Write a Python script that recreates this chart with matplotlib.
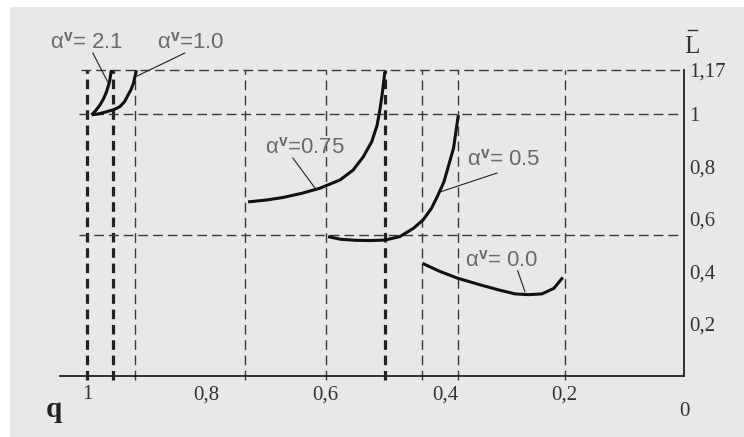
"""L(q) curves for several alpha values"""

import matplotlib
matplotlib.use("Agg")
import matplotlib.pyplot as plt
from matplotlib.patches import Rectangle

# curves: q (x axis runs from 1 down to 0) and L
q_a21 = [0.992, 0.985, 0.978, 0.972, 0.967, 0.962, 0.959]
L_a21 = [0.998, 1.015, 1.036, 1.060, 1.087, 1.125, 1.169]

q_a10 = [0.992, 0.980, 0.967, 0.955, 0.945, 0.937, 0.931, 0.926, 0.922, 0.917]
L_a10 = [0.998, 1.002, 1.010, 1.018, 1.029, 1.048, 1.074, 1.095, 1.119, 1.169]

q_a075 = [0.730, 0.700, 0.671, 0.640, 0.610, 0.576, 0.554, 0.537, 0.523, 0.514,
          0.509, 0.505, 0.501]
L_a075 = [0.665, 0.672, 0.682, 0.698, 0.717, 0.749, 0.787, 0.838, 0.895, 0.958,
          1.021, 1.085, 1.163]

q_a05 = [0.596, 0.575, 0.55, 0.525, 0.501, 0.476, 0.453, 0.437, 0.423, 0.412,
         0.402, 0.394, 0.386, 0.382, 0.378]
L_a05 = [0.532, 0.522, 0.518, 0.517, 0.519, 0.532, 0.564, 0.596, 0.640, 0.691,
         0.742, 0.806, 0.870, 0.933, 0.997]

q_a00 = [0.438, 0.41, 0.379, 0.345, 0.310, 0.283, 0.26, 0.238, 0.218, 0.203]
L_a00 = [0.430, 0.400, 0.373, 0.350, 0.328, 0.313, 0.310, 0.313, 0.334, 0.376]

# dashed guide lines
vlines_bold = [1.0, 0.957, 0.5]
vlines_thin = [0.92, 0.735, 0.6, 0.439, 0.379, 0.2]
hlines = [1.17, 1.0, 0.539]

x_ticks = [1.0, 0.8, 0.6, 0.4, 0.2]
x_labels = ["1", "0,8", "0,6", "0,4", "0,2"]
y_ticks = [0.2, 0.4, 0.6, 0.8, 1.0, 1.17]
y_labels = ["0,2", "0,4", "0,6", "0,8", "1", "1,17"]

plt.rcParams["font.family"] = ["Liberation Sans", "DejaVu Sans"]
plt.rcParams["mathtext.fontset"] = "custom"
plt.rcParams["mathtext.rm"] = "Liberation Sans"
plt.rcParams["mathtext.bf"] = "Liberation Sans:bold"
plt.rcParams["mathtext.it"] = "Liberation Serif"

fig = plt.figure(figsize=(7.44, 4.37), dpi=100)
fig.patch.set_facecolor("white")
fig.patches.append(Rectangle((10 / 744, 0), 1, 430 / 437, transform=fig.transFigure,
                             facecolor="#e8e8e8", edgecolor="none", zorder=-5))

ax = fig.add_axes([60 / 744, (437 - 375.7) / 437, 624 / 744, 305.8 / 437])
ax.set_zorder(2)
ax.set_facecolor("none")
ax.set_xlim(1.045, 0)
ax.set_ylim(0, 1.17)

# guide lines
for q in vlines_thin:
    ax.plot([q, q], [-0.015, 1.17], color="#3a3a3a", lw=1.0,
            linestyle=(0, (7.0, 4.0)), clip_on=False, zorder=1)
for q in vlines_bold:
    ax.plot([q, q], [-0.015, 1.17], color="#222222", lw=2.3,
            linestyle=(0, (3.0, 1.8)), clip_on=False, zorder=1)
ax.plot([1.010, 0], [1.17, 1.17], color="#3a3a3a", lw=1.0,
        linestyle=(0, (7.0, 3.6)), clip_on=False, zorder=1)
for y in hlines[1:]:
    ax.plot([1.013, 0], [y, y], color="#3a3a3a", lw=1.0,
            linestyle=(0, (7.0, 3.6)), clip_on=False, zorder=1)

# curves
for qq, LL in [(q_a21, L_a21), (q_a10, L_a10), (q_a075, L_a075),
               (q_a05, L_a05), (q_a00, L_a00)]:
    ax.plot(qq, LL, color="#111111", lw=2.2, solid_capstyle="butt",
            solid_joinstyle="round", clip_on=False, zorder=3)

# labels with leader lines
lab_col = "#6a6a6a"
ax.text(1.062, 1.254, r"α$^{\mathbf{v}}$= 2.1", fontsize=16, color=lab_col,
        va="baseline", ha="left", clip_on=False)
ax.plot([0.990, 0.965], [1.2345, 1.1236], color="#222222", lw=0.8, clip_on=False)
ax.text(0.883, 1.254, r"α$^{\mathbf{v}}$=1.0", fontsize=16, color=lab_col,
        va="baseline", ha="left", clip_on=False)
ax.plot([0.836, 0.916], [1.2345, 1.1465], color="#222222", lw=0.8, clip_on=False)
ax.text(0.702, 0.852, r"α$^{\mathbf{v}}$=0.75", fontsize=16, color=lab_col,
        va="baseline", ha="left")
ax.plot([0.655, 0.618], [0.8329, 0.7181], color="#222222", lw=0.8)
ax.text(0.3635, 0.806, r"α$^{\mathbf{v}}$= 0.5", fontsize=16, color=lab_col,
        va="baseline", ha="left")
ax.plot([0.313, 0.409], [0.7755, 0.7027], color="#222222", lw=0.8)
ax.text(0.367, 0.42, r"α$^{\mathbf{v}}$= 0.0", fontsize=16, color=lab_col,
        va="baseline", ha="left")
ax.plot([0.2786, 0.2663], [0.4017, 0.3213], color="#222222", lw=0.8)

# axes
for side in ["top", "left"]:
    ax.spines[side].set_visible(False)
for side in ["bottom", "right"]:
    ax.spines[side].set_color("#222222")
    ax.spines[side].set_linewidth(1.3)

ax.set_xticks(x_ticks)
ax.set_xticklabels(x_labels, family="Liberation Serif", fontsize=15, color="#333333")
ax.yaxis.tick_right()
ax.set_yticks(y_ticks)
ax.set_yticklabels(y_labels, family="Liberation Serif", fontsize=15, color="#333333")
ax.tick_params(axis="x", length=0, pad=7)
ax.tick_params(axis="y", length=0, pad=4)

ax.text(0, -0.1375, "0", family="Liberation Serif", fontsize=15, color="#333333",
        ha="center", va="center", clip_on=False)
ax.text(1.056, -0.131, "q", family="Liberation Serif", fontsize=21, fontweight="bold",
        color="#222222", ha="center", va="center", clip_on=False)
ax.text(-0.0134, 1.257, "L", family="Liberation Serif", fontsize=18, color="#333333",
        ha="center", va="center", clip_on=False)
ax.plot([-0.006, -0.021], [1.322, 1.322], color="#333333", lw=1.0, clip_on=False)

fig.savefig("out.png", dpi=100, facecolor=fig.get_facecolor())
